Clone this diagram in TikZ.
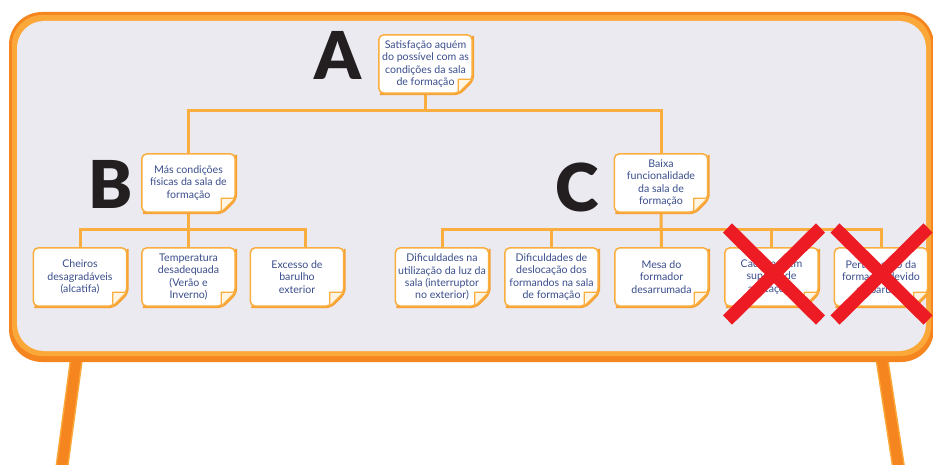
\documentclass[tikz,border=0pt]{standalone}
\usepackage{fontspec}
\setmainfont{Lato}
\newfontfamily\heavyfont{Lato}[UprightFont={* Black}]
\definecolor{boarddark}{HTML}{F5861F}
\definecolor{boardlight}{HTML}{FBA83B}
\definecolor{boardfill}{HTML}{EAEAF0}
\definecolor{noteorange}{HTML}{F9AE3F}
\definecolor{noteshadow}{HTML}{F7A033}
\definecolor{flapfill}{HTML}{FFF5E3}
\definecolor{notetext}{HTML}{3B4E8C}
\definecolor{crossred}{HTML}{ED1C24}
\definecolor{lettercol}{HTML}{231F20}
\pgfdeclarelayer{board}
\pgfdeclarelayer{notes}
\pgfsetlayers{board,notes,main}
\tikzset{
  note/.style={minimum width=93pt, minimum height=58pt,
    inner sep=0pt, align=center, text=notetext,
    font=\fontsize{10.6}{12.2}\selectfont},
  conn/.style={draw=noteorange, line width=3pt},
  bigletter/.style={text=lettercol, font=\heavyfont\fontsize{66}{66}\selectfont, inner sep=0pt},
  cross/.style={draw=crossred, line width=13pt},
  leg/.style={draw=boardlight, line width=13pt},
  legcore/.style={draw=boarddark, line width=10pt}
}
\begin{document}
\begin{tikzpicture}[x=1pt, y=-1pt]
\useasboundingbox (0,0) rectangle (933,465);

% sticky notes (text only; paper drawn below on its own layer)
\node[note] (a)  at (425.5,64) {Satisfação aquém\\do possível com as\\condições da sala\\de formação};
\node[note] (b)  at (188.5,183) {Más condições\\físicas da sala de\\formação};
\node[note] (c)  at (661,183) {Baixa\\funcionalidade\\da sala de\\formação};
\node[note] (b1) at (80,277) {Cheiros\\desagradáveis\\(alcatifa)};
\node[note] (b2) at (188.5,277) {Temperatura\\desadequada\\(Verão e\\Inverno)};
\node[note] (b3) at (297,277) {Excesso de\\barulho\\exterior};
\node[note] (c1) at (442,277) {Dificuldades na\\utilização da luz da\\sala (interruptor\\no exterior)};
\node[note] (c2) at (551.5,277) {Dificuldades de\\deslocação dos\\formandos na sala\\de formação};
\node[note] (c3) at (661.5,277) {Mesa do\\formador\\desarrumada};
\node[note] (c4) at (771.5,277) {Cadeiras sem\\suporte de\\anotações};
\node[note] (c5) at (881,277) {Perturbação da\\formação devido\\ao barulho};

% big level letters
\node[bigletter] (la) at (337.5,55) {A};
\node[bigletter] (lb) at (110.5,184) {B};
\node[bigletter] (lc) at (577,187) {C};

% board, legs and connectors
\begin{pgfonlayer}{board}
  \draw[leg] (79,340) -- (61.5,470);
  \draw[legcore] (79,340) -- (61.5,470);
  \draw[leg] (879,340) -- (899,470);
  \draw[legcore] (879,340) -- (899,470);
  \fill[boarddark, rounded corners=33pt] (9,12) rectangle (934,362);
  \fill[boardlight, rounded corners=30pt] (12,15) rectangle (931,356);
  \fill[boardfill, rounded corners=27pt] (17,21) rectangle (926,351);

  \coordinate (aj) at (425.5,111);
  \coordinate (bj) at (188.5,229);
  \coordinate (cj) at (661,229);
  \coordinate (b3top) at ([xshift=8pt]b3.north);
  \draw[conn] (a.south) -- (aj);
  \draw[conn] (b.north) -- (b.north |- aj) -- (c.north |- aj) -- (c.north);
  \draw[conn] (b.south) -- (bj);
  \draw[conn] (b1.north) -- (b1.north |- bj) -- (b3top |- bj) -- (b3top);
  \draw[conn] (b2.north) -- (bj);
  \draw[conn] (c.south) -- (c3.north);
  \draw[conn] (c1.north) -- (c1.north |- cj) -- (c5.north |- cj) -- (c5.north);
  \draw[conn] (c2.north) -- (c2.north |- cj);
  \draw[conn] (c4.north) -- (c4.north |- cj);
\end{pgfonlayer}

% paper of each note with its folded corner
\begin{pgfonlayer}{notes}
  \foreach \n in {a,b,c,b1,b2,b3,c1,c2,c3,c4,c5}{
    \draw[noteshadow, line width=2pt, rounded corners=5pt]
      ([xshift=1pt,yshift=-1pt]\n.north east) -- ([xshift=1pt,yshift=13pt]\n.south east)
      -- ([xshift=-13pt,yshift=-1pt]\n.south east) -- ([xshift=1pt,yshift=-1pt]\n.south west);
    \filldraw[fill=white, draw=noteorange, line width=1.5pt, rounded corners=5pt]
      (\n.south west) -- (\n.north west) -- (\n.north east)
      -- ([yshift=14pt]\n.south east) -- ([xshift=-14pt]\n.south east) -- cycle;
    \filldraw[fill=flapfill, draw=noteorange, line width=1.2pt, line join=round]
      ([yshift=14pt]\n.south east) -- ([xshift=-14pt,yshift=14pt]\n.south east)
      -- ([xshift=-14pt]\n.south east) -- cycle;
  }
\end{pgfonlayer}

% crossed-out causes
\draw[cross] ([xshift=-44pt,yshift=49pt]c4.center) -- ([xshift=49pt,yshift=-43pt]c4.center);
\draw[cross] ([xshift=49pt,yshift=49pt]c4.center) -- ([xshift=-44pt,yshift=-43pt]c4.center);
\draw[cross] ([xshift=-46pt,yshift=49pt]c5.center) -- ([xshift=47pt,yshift=-43pt]c5.center);
\draw[cross] ([xshift=47pt,yshift=49pt]c5.center) -- ([xshift=-46pt,yshift=-43pt]c5.center);
\end{tikzpicture}
\end{document}
